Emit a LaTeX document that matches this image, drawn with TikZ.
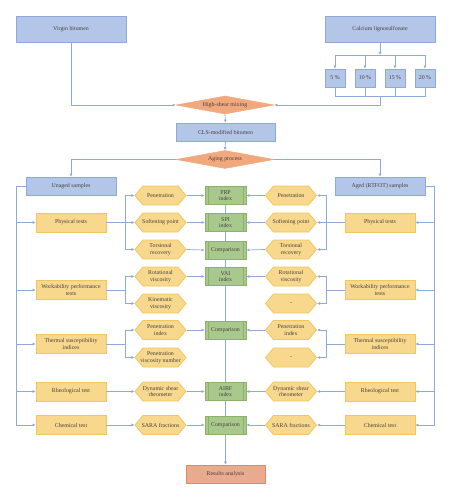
\documentclass[tikz,border=0pt]{standalone}
\usepackage{fontspec}
\setmainfont{Liberation Serif}
\usepackage{tikz}
\usetikzlibrary{shapes,arrows}
\usetikzlibrary{positioning}
\usetikzlibrary{arrows.meta,shapes.geometric,shapes.symbols}

\definecolor{boxblue}{HTML}{B4C6E8}
\definecolor{lineblue}{HTML}{8EAADC}
\definecolor{boxyellow}{HTML}{F8D88C}
\definecolor{lineyellow}{HTML}{F1C65E}
\definecolor{boxgreen}{HTML}{A9C98C}
\definecolor{linegreen}{HTML}{8AB26B}
\definecolor{boxorange}{HTML}{F0A87C}
\definecolor{boxred}{HTML}{E9AA90}
\definecolor{linered}{HTML}{E4875F}
\definecolor{textgray}{HTML}{474040}

\tikzset{
  every node/.style={font=\fontsize{5.9}{6.6}\selectfont, text=textgray, align=center, inner sep=0pt},
  bluebox/.style={rectangle, draw=lineblue, fill=boxblue, line width=0.8pt},
  yellowbox/.style={rectangle, draw=lineyellow, fill=boxyellow, line width=0.8pt,
    minimum width=70pt, minimum height=19pt},
  hexbox/.style={signal, signal to=west and east, signal pointer angle=100,
    inner xsep=-6pt, inner ysep=0pt,
    draw=lineyellow, fill=boxyellow, line width=0.8pt,
    minimum width=51pt, minimum height=19pt},
  greenbox/.style={rectangle, draw=linegreen, fill=boxgreen, line width=0.8pt,
    minimum width=41pt, minimum height=18pt,
    path picture={
      \draw[linegreen, line width=0.6pt]
        ([xshift=3pt]path picture bounding box.north west) -- ([xshift=3pt]path picture bounding box.south west)
        ([xshift=-3pt]path picture bounding box.north east) -- ([xshift=-3pt]path picture bounding box.south east);
    }},
  orangediamond/.style={diamond, aspect=5.44, fill=boxorange, draw=boxorange, line width=0.5pt,
    minimum width=98pt, minimum height=18pt},
  resultbox/.style={rectangle, draw=linered, fill=boxred, line width=0.8pt,
    minimum width=79pt, minimum height=18pt},
  line/.style={draw=lineblue, line width=0.7pt},
  link/.style={line, -{Latex[length=3pt,width=3pt]}},
}

\begin{document}
\begin{tikzpicture}[x=1pt,y=-1pt]
\useasboundingbox (0,0) rectangle (451,500);

% materials
\node (virgin) [bluebox, minimum width=110pt, minimum height=26pt] at (71,29) {Virgin bitumen};
\node (cls) [bluebox, minimum width=110pt, minimum height=26pt] at (380,29) {Calcium lignosulfonate};
\node (p5) [bluebox, minimum width=20pt, minimum height=18pt] at (335,78) {5 \%};
\node (p10) [bluebox, minimum width=20pt, minimum height=18pt] at (365,78) {10 \%};
\node (p15) [bluebox, minimum width=20pt, minimum height=18pt] at (395,78) {15 \%};
\node (p20) [bluebox, minimum width=20pt, minimum height=18pt] at (425,78) {20 \%};

\node (mix) [orangediamond] at (225,105) {High-shear mixing};
\node (mod) [bluebox, minimum width=99pt, minimum height=18pt] at (225.5,132) {CLS-modified bitumen};
\node (aging) [orangediamond] at (225,159.5) {Aging process};
\node (unaged) [bluebox, minimum width=90pt, minimum height=18pt] at (71,186) {Unaged samples};
\node (aged) [bluebox, minimum width=90pt, minimum height=18pt] at (380,186) {Aged (RTFOT) samples};

% tests, unaged side
\node (phys1) [yellowbox] at (71,222.5) {Physical tests};
\node (work1) [yellowbox] at (71,290) {Workability performance\\tests};
\node (therm1) [yellowbox] at (71,344) {Thermal susceptibility\\indices};
\node (rheo1) [yellowbox] at (71,391.5) {Rheological test};
\node (chem1) [yellowbox] at (71,425) {Chemical test};

% tests, aged side
\node (phys2) [yellowbox] at (380,222.5) {Physical tests};
\node (work2) [yellowbox] at (380,290) {Workability performance\\tests};
\node (therm2) [yellowbox] at (380,344) {Thermal susceptibility\\indices};
\node (rheo2) [yellowbox] at (380,391.5) {Rheological test};
\node (chem2) [yellowbox] at (380,425) {Chemical test};

% properties, unaged side
\node (pen1) [hexbox] at (160.5,195.5) {Penetration};
\node (soft1) [hexbox] at (160.5,222.5) {Softening point};
\node (tors1) [hexbox] at (160.5,249.5) {Torsional\\recovery};
\node (rot1) [hexbox] at (160.5,276.5) {Rotational\\viscosity};
\node (kin1) [hexbox] at (160.5,303.5) {Kinematic\\viscosity};
\node (pi1) [hexbox] at (160.5,330) {Penetration\\index};
\node (pvn1) [hexbox] at (160.5,357.5) {Penetration\\viscosity number};
\node (dsr1) [hexbox] at (160.5,391.5) {Dynamic shear\\rheometer};
\node (sara1) [hexbox] at (160.5,425) {SARA fractions};

% properties, aged side
\node (pen2) [hexbox] at (291,195.5) {Penetration};
\node (soft2) [hexbox] at (291,222.5) {Softening point};
\node (tors2) [hexbox] at (291,249.5) {Torsional\\recovery};
\node (rot2) [hexbox] at (291,276.5) {Rotational\\viscosity};
\node (kin2) [hexbox] at (291,303.5) {-};
\node (pi2) [hexbox] at (291,330) {Penetration\\index};
\node (pvn2) [hexbox] at (291,357.5) {-};
\node (dsr2) [hexbox] at (291,391.5) {Dynamic shear\\rheometer};
\node (sara2) [hexbox] at (291,425) {SARA fractions};

% indices
\node (prp) [greenbox] at (225.5,195.5) {PRP\\index};
\node (spi) [greenbox] at (225.5,222.5) {SPI\\index};
\node (cmp1) [greenbox] at (225.5,250) {Comparison};
\node (vai) [greenbox] at (225.5,276.5) {VAI\\index};
\node (cmp2) [greenbox] at (225.5,330) {Comparison};
\node (airf) [greenbox] at (225.5,391.5) {AIRF\\index};
\node (cmp3) [greenbox] at (225.5,425) {Comparison};
\node (results) [resultbox] at (225.5,474) {Results analysis};

\coordinate (clsbus) at (380,55);
\coordinate (pctbus) at (380,96);
\coordinate (lbus) at (16,186);
\coordinate (rbus) at (434,186);
\coordinate (lsplit) at (125,0);
\coordinate (rsplit) at (326,0);

% mixing
\draw[link] (virgin.south) |- (mix.west);
\draw[link] (cls.south) -- (clsbus);
\draw[line] (p5.north |- clsbus) -- (p20.north |- clsbus);
\draw[link] (p5.north |- clsbus) -- (p5.north);
\draw[link] (p10.north |- clsbus) -- (p10.north);
\draw[link] (p15.north |- clsbus) -- (p15.north);
\draw[link] (p20.north |- clsbus) -- (p20.north);
\draw[line] (p5.south) |- (p20.south |- pctbus) -- (p20.south);
\draw[line] (p10.south) -- (p10.south |- pctbus);
\draw[line] (p15.south) -- (p15.south |- pctbus);
\draw[link] (pctbus) |- (mix.east);
\draw[link] (mix.south) -- (mod.north);
\draw[link] (mod.south) -- (aging.north);
\draw[link] (aging.west) -| (unaged.north);
\draw[link] (aging.east) -| (aged.north);

% buses to the tests
\draw[link] (unaged.west) -- (lbus) |- (chem1.west);
\draw[link] (lbus |- phys1) -- (phys1.west);
\draw[link] (lbus |- work1) -- (work1.west);
\draw[link] (lbus |- therm1) -- (therm1.west);
\draw[link] (lbus |- rheo1) -- (rheo1.west);
\draw[link] (aged.east) -- (rbus) |- (chem2.east);
\draw[link] (rbus |- phys2) -- (phys2.east);
\draw[link] (rbus |- work2) -- (work2.east);
\draw[link] (rbus |- therm2) -- (therm2.east);
\draw[link] (rbus |- rheo2) -- (rheo2.east);

% unaged tests to properties
\draw[link] (phys1.east) -- (soft1.west);
\draw[link] (lsplit |- soft1) |- (pen1.west);
\draw[link] (lsplit |- soft1) |- (tors1.west);
\draw[line] (work1.east) -- (lsplit |- work1);
\draw[link] (lsplit |- work1) |- (rot1.west);
\draw[link] (lsplit |- work1) |- (kin1.west);
\draw[line] (therm1.east) -- (lsplit |- therm1);
\draw[link] (lsplit |- therm1) |- (pi1.west);
\draw[link] (lsplit |- therm1) |- (pvn1.west);
\draw[link] (rheo1.east) -- (dsr1.west);
\draw[link] (chem1.east) -- (sara1.west);

% aged tests to properties
\draw[link] (phys2.west) -- (soft2.east);
\draw[link] (rsplit |- soft2) |- (pen2.east);
\draw[link] (rsplit |- soft2) |- (tors2.east);
\draw[line] (work2.west) -- (rsplit |- work2);
\draw[link] (rsplit |- work2) |- (rot2.east);
\draw[link] (rsplit |- work2) |- (kin2.east);
\draw[line] (therm2.west) -- (rsplit |- therm2);
\draw[link] (rsplit |- therm2) |- (pi2.east);
\draw[link] (rsplit |- therm2) |- (pvn2.east);
\draw[link] (rheo2.west) -- (dsr2.east);
\draw[link] (chem2.west) -- (sara2.east);

% properties to indices
\draw[link] (pen1.east) -- (prp.west);
\draw[link] (soft1.east) -- (spi.west);
\draw[link] (tors1.east) -- (cmp1.west);
\draw[link] (rot1.east) -- (vai.west);
\draw[link] (pi1.east) -- (cmp2.west);
\draw[link] (dsr1.east) -- (airf.west);
\draw[link] (sara1.east) -- (cmp3.west);
\draw[link] (pen2.west) -- (prp.east);
\draw[link] (soft2.west) -- (spi.east);
\draw[link] (tors2.west) -- (cmp1.east);
\draw[link] (rot2.west) -- (vai.east);
\draw[link] (pi2.west) -- (cmp2.east);
\draw[link] (dsr2.west) -- (airf.east);
\draw[link] (sara2.west) -- (cmp3.east);

\draw[link] (prp) -- (spi) -- (cmp1) -- (vai) -- (cmp2) -- (airf) -- (cmp3) -- (results);
\end{tikzpicture}
\end{document}
